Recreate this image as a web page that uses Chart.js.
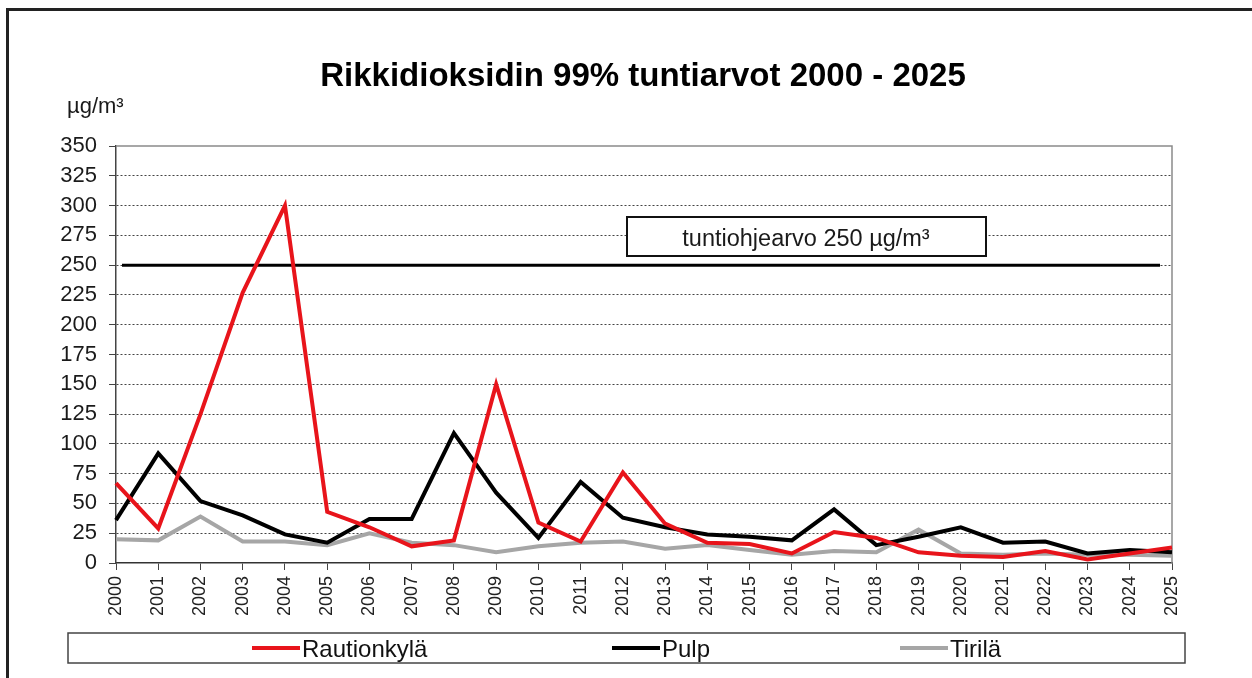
<!DOCTYPE html>
<html>
<head>
<meta charset="utf-8">
<title>Rikkidioksidin 99% tuntiarvot</title>
<script src="https://cdn.jsdelivr.net/npm/chart.js@4/dist/chart.umd.min.js"></script>
<style>
  html, body { margin: 0; padding: 0; background: #fff; }
  canvas { display: block; }
</style>
</head>
<body>
<canvas id="so2Chart" width="1252" height="678"></canvas>
<script>
  const years = ["2000", "2001", "2002", "2003", "2004", "2005", "2006", "2007", "2008", "2009",
    "2010", "2011", "2012", "2013", "2014", "2015", "2016", "2017", "2018", "2019",
    "2020", "2021", "2022", "2023", "2024", "2025"];
  const rautionkyla = [67, 29, 125, 227, 300, 43, 30, 14, 19, 150, 34, 18, 76, 33, 17, 16, 8, 26, 21, 9, 6, 5, 10, 3, 8, 13];
  const pulp = [36, 92, 52, 40, 24, 17, 37, 37, 109, 59, 21, 68, 38, 30, 24, 22, 19, 45, 15, 22, 30, 17, 18, 8, 11, 9];
  const tirila = [20, 19, 39, 18, 18, 15, 25, 17, 15, 9, 14, 17, 18, 12, 15, 11, 7, 10, 9, 28, 8, 7, 8, 7, 7, 6];
  const hourLimit = 250;
  const limitText = "tuntiohjearvo 250 µg/m³";

  const FONT = "'Liberation Sans', Arial, sans-serif";

  // frame, title, unit, limit line + label box, legend
  const decor = {
    id: 'decor',
    beforeDraw(chart) {
      const ctx = chart.ctx;
      ctx.save();
      ctx.fillStyle = '#fff';
      ctx.fillRect(0, 0, chart.width, chart.height);
      ctx.fillStyle = '#222';
      ctx.fillRect(6, 8, chart.width - 6, 3);
      ctx.fillRect(6, 8, 3, chart.height - 8);
      ctx.restore();
    },
    beforeDatasetsDraw(chart) {
      const ctx = chart.ctx;
      const a = chart.chartArea;
      const y = chart.scales.y.getPixelForValue(hourLimit);
      ctx.save();
      // plot frame on top and right
      ctx.strokeStyle = '#8a8a8a';
      ctx.lineWidth = 1.5;
      ctx.beginPath();
      ctx.moveTo(a.left, a.top);
      ctx.lineTo(a.right, a.top);
      ctx.lineTo(a.right, a.bottom);
      ctx.stroke();
      // hourly guideline
      ctx.strokeStyle = '#000';
      ctx.lineWidth = 3;
      ctx.beginPath();
      ctx.moveTo(a.left + 6, y);
      ctx.lineTo(a.right - 12, y);
      ctx.stroke();
      ctx.restore();
    },
    afterDraw(chart) {
      const ctx = chart.ctx;
      ctx.save();
      ctx.fillStyle = '#000';
      ctx.textBaseline = 'alphabetic';
      ctx.textAlign = 'center';
      ctx.font = 'bold 33px ' + FONT;
      ctx.fillText('Rikkidioksidin 99% tuntiarvot 2000 - 2025', 643, 86);

      ctx.textAlign = 'left';
      ctx.fillStyle = '#1a1a1a';
      ctx.font = '22px ' + FONT;
      ctx.fillText('µg/m³', 67, 113);

      // guideline label
      ctx.fillStyle = '#fff';
      ctx.fillRect(627, 217, 359, 39);
      ctx.strokeStyle = '#111';
      ctx.lineWidth = 2;
      ctx.strokeRect(627, 217, 359, 39);
      ctx.fillStyle = '#1a1a1a';
      ctx.textAlign = 'center';
      ctx.font = '23.5px ' + FONT;
      ctx.fillText(limitText, 806, 246);

      // legend box
      ctx.strokeStyle = '#444';
      ctx.lineWidth = 1.5;
      ctx.strokeRect(68, 633, 1117, 30);
      const starts = [252, 612, 900];
      ctx.textAlign = 'left';
      ctx.font = '24px ' + FONT;
      chart.data.datasets.forEach((ds, i) => {
        const x = starts[i];
        ctx.strokeStyle = ds.borderColor;
        ctx.lineWidth = 4;
        ctx.beginPath();
        ctx.moveTo(x, 648);
        ctx.lineTo(x + 48, 648);
        ctx.stroke();
        ctx.fillStyle = '#111';
        ctx.fillText(ds.label, x + 50, 657);
      });
      ctx.restore();
    }
  };

  new Chart(document.getElementById("so2Chart"), {
    type: 'line',
    data: {
      labels: years,
      datasets: [
        {
          label: "Rautionkylä",
          data: rautionkyla,
          borderColor: "#e8141b",
          borderWidth: 4,
          pointRadius: 0,
          tension: 0
        },
        {
          label: "Pulp",
          data: pulp,
          borderColor: "#000000",
          borderWidth: 4,
          pointRadius: 0,
          tension: 0
        },
        {
          label: "Tirilä",
          data: tirila,
          borderColor: "#a6a6a6",
          borderWidth: 4,
          pointRadius: 0,
          tension: 0
        }
      ]
    },
    options: {
      responsive: false,
      animation: false,
      devicePixelRatio: 1,
      layout: { padding: { left: 0, right: 80, top: 146, bottom: 0 } },
      plugins: {
        legend: { display: false },
        title: { display: false },
        tooltip: { enabled: false }
      },
      scales: {
        x: {
          offset: false,
          afterFit(s) { s.height = 115; },
          grid: {
            drawOnChartArea: false,
            color: '#444',
            tickLength: 7
          },
          border: { color: '#333', width: 1.5 },
          ticks: {
            autoSkip: false,
            minRotation: 90,
            maxRotation: 90,
            padding: 6,
            color: '#222',
            font: { family: FONT, size: 18 }
          }
        },
        y: {
          min: 0,
          max: 350,
          afterFit(s) { s.width = 116; },
          grid: {
            color: (c) => (c.tick && (c.tick.value === 0 || c.tick.value === 350)) ? 'rgba(0,0,0,0)' : '#444',
            tickColor: '#444',
            lineWidth: 1,
            tickLength: 7
          },
          border: { color: '#444', width: 1.5, dash: [2, 2] },
          ticks: {
            stepSize: 25,
            padding: 12,
            color: '#1a1a1a',
            font: { family: FONT, size: 22 }
          }
        }
      }
    },
    plugins: [decor]
  });
</script>
</body>
</html>
